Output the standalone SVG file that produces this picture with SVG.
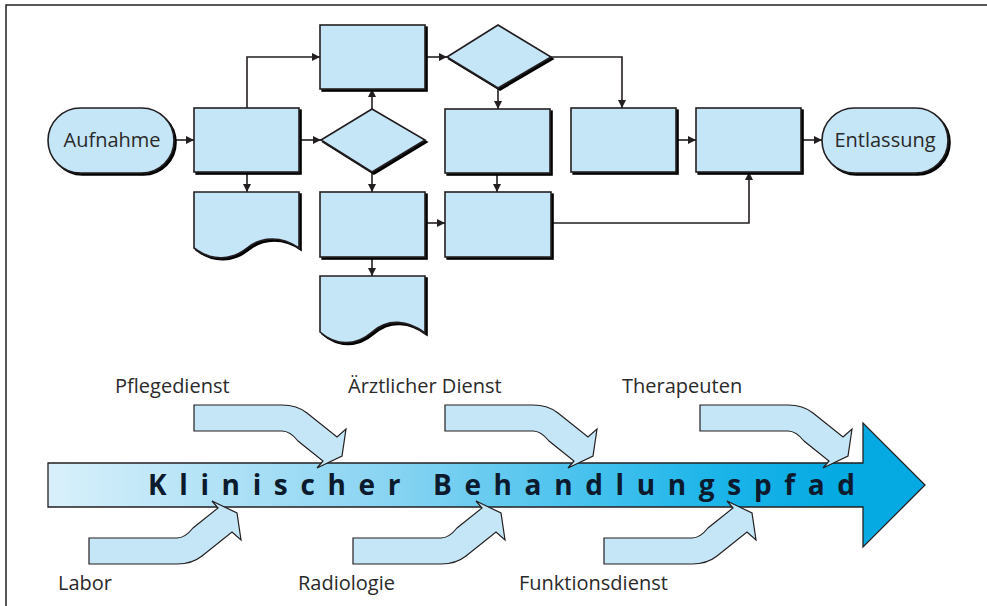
<svg xmlns="http://www.w3.org/2000/svg" width="987" height="606" viewBox="0 0 987 606">
<style>
  .nd { fill: #c5e6f7; stroke: #231f20; stroke-width: 1.6; filter: url(#sh); }
  .cn { fill: none; stroke: #231f20; stroke-width: 1.6; marker-end: url(#ah); }
  .lbl { font-family: "Open Sans", "Noto Sans", sans-serif; font-size: 20px; fill: #2a2a2a; }
  .bend { fill: #c5e6f7; stroke: #231f20; stroke-width: 1.2; stroke-linejoin: miter; }
  .frame { stroke: #231f20; stroke-width: 1.5; fill: none; }
</style>
<defs>
  <filter id="sh" x="-10%" y="-10%" width="130%" height="130%">
    <feOffset in="SourceAlpha" dx="2.2" dy="2.2" result="o"/>
    <feMerge><feMergeNode in="o"/><feMergeNode in="SourceGraphic"/></feMerge>
  </filter>
  <marker id="ah" viewBox="0 0 10 10" refX="10" refY="5" markerWidth="8" markerHeight="8" markerUnits="userSpaceOnUse" orient="auto">
    <path d="M0,0 L10,5 L0,10 Z" fill="#231f20"/>
  </marker>
  <linearGradient id="gr" gradientUnits="userSpaceOnUse" x1="48" y1="0" x2="925" y2="0">
    <stop offset="0" stop-color="#d9f0fb"/>
    <stop offset="0.4" stop-color="#86d3f2"/>
    <stop offset="0.75" stop-color="#1fb6ea"/>
    <stop offset="0.9" stop-color="#05aae2"/>
    <stop offset="1" stop-color="#05aae2"/>
  </linearGradient>
  <path id="bent" class="bend" d="M0,0 H88 Q103,0 113,8 L143,32 L152,24 L148,51 L123,63 L129,56 L104,36 Q96,26 88,26 H0 Z"/>
</defs>

<rect width="987" height="606" fill="#ffffff"/>
<path class="frame" d="M6,606 V5 H987"/>

<g id="connectors">
  <path class="cn" d="M174,140 H194"/>
  <path class="cn" d="M247,108 V57 H320"/>
  <path class="cn" d="M299,140 H321"/>
  <path class="cn" d="M247,172 V192"/>
  <path class="cn" d="M372,109 V89"/>
  <path class="cn" d="M372,172 V192"/>
  <path class="cn" d="M425,57 H447"/>
  <path class="cn" d="M498,88 V109"/>
  <path class="cn" d="M551,57 H622 V108"/>
  <path class="cn" d="M497,173 V192"/>
  <path class="cn" d="M425,223 H445"/>
  <path class="cn" d="M372,257 V276"/>
  <path class="cn" d="M551,223 H749 V172"/>
  <path class="cn" d="M676,140 H696"/>
  <path class="cn" d="M801,140 H822"/>
</g>

<g id="aufnahme">
  <rect class="nd" x="48" y="108" width="126" height="65" rx="32.5"/>
  <text class="lbl" x="112" y="147" text-anchor="middle">Aufnahme</text>
</g>
<g id="box1"><rect class="nd" x="194" y="108" width="105" height="64"/></g>
<g id="box2"><rect class="nd" x="320" y="25" width="105" height="64"/></g>
<g id="decision1"><polygon class="nd" points="447,57 498,25 551,57 498,88"/></g>
<g id="decision2"><polygon class="nd" points="321,140 372,109 425,140 372,172"/></g>
<g id="box3"><rect class="nd" x="445" y="109" width="105" height="64"/></g>
<g id="box4"><rect class="nd" x="571" y="108" width="105" height="64"/></g>
<g id="box5"><rect class="nd" x="696" y="108" width="105" height="64"/></g>
<g id="entlassung">
  <rect class="nd" x="822" y="108" width="126" height="65" rx="32.5"/>
  <text class="lbl" x="885" y="147" text-anchor="middle">Entlassung</text>
</g>
<g id="doc1"><path class="nd" d="M194,192 H299 V248 C282,236 262,236 247,248 C232,260 212,262 194,248 Z"/></g>
<g id="box6"><rect class="nd" x="320" y="192" width="105" height="65"/></g>
<g id="box7"><rect class="nd" x="445" y="192" width="106" height="65"/></g>
<g id="doc2"><path class="nd" d="M320,276 H425 V333 C408,320 388,318 372,332 C356,346 336,346 320,332 Z"/></g>

<g id="pathway">
  <path d="M48,463 H863 V423 L925,485 L863,547 V507 H48 Z" fill="url(#gr)" stroke="#231f20" stroke-width="1.3"/>
</g>

<g id="inputs">
  <use href="#bent" transform="translate(194,405)"/>
  <use href="#bent" transform="translate(445,405)"/>
  <use href="#bent" transform="translate(700,405)"/>
  <use href="#bent" transform="translate(89,564) scale(1,-1)"/>
  <use href="#bent" transform="translate(353,564) scale(1,-1)"/>
  <use href="#bent" transform="translate(604,564) scale(1,-1)"/>
</g>

<text x="148" y="495" textLength="707" lengthAdjust="spacing" font-family="'Open Sans', 'Noto Sans', sans-serif" font-weight="bold" font-size="28" fill="#0b1a2c">Klinischer Behandlungspfad</text>

<g id="labels">
  <text class="lbl" x="115" y="393">Pflegedienst</text>
  <text class="lbl" x="348" y="393">Ärztlicher Dienst</text>
  <text class="lbl" x="622" y="393">Therapeuten</text>
  <text class="lbl" x="58" y="590">Labor</text>
  <text class="lbl" x="298" y="590">Radiologie</text>
  <text class="lbl" x="519" y="590">Funktionsdienst</text>
</g>
</svg>
